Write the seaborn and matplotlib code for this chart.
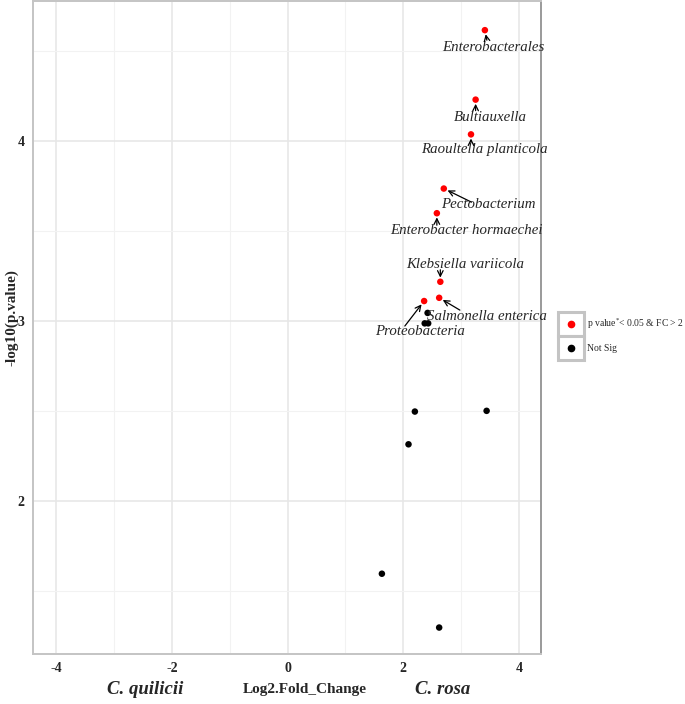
import matplotlib
matplotlib.use("Agg")
import matplotlib.pyplot as plt
from matplotlib.patches import Rectangle
from matplotlib.lines import Line2D
from matplotlib.ticker import FixedLocator
import seaborn as sns
import pandas as pd

# ---- data ----
log2fc = [3.41, 3.25, 3.17, 2.70, 2.58, 2.64, 2.62, 2.36,
          2.42, 2.37, 2.43, 2.20, 3.44, 2.09, 1.63, 2.62]
neglog10p = [4.614, 4.228, 4.035, 3.734, 3.597, 3.216, 3.127, 3.109,
             3.043, 2.985, 2.985, 2.495, 2.499, 2.313, 1.594, 1.295]
group = ["sig"] * 8 + ["ns"] * 8
labels = ["Enterobacterales", "Bultiauxella", "Raoultella planticola",
          "Pectobacterium", "Enterobacter hormaechei", "Klebsiella variicola",
          "Salmonella enterica", "Proteobacteria"] + [""] * 8
legend_labels = ["p value$^{*}$< 0.05 & FC > 2", "Not Sig"]
xticks = [-4, -2, 0, 2, 4]
xminor = [-3, -1, 1, 3]
yticks = [2, 3, 4]
yminor = [1.5, 2.5, 3.5, 4.5]

df = pd.DataFrame({"x": log2fc, "y": neglog10p, "g": group, "lab": labels})

# label (baseline) and arrow-start offsets (pixels, layout only)
text_off = [(8.5, -21), (15, -21), (13.5, -19), (44.5, -19.5), (30, -21),
            (25, 13.5), (48, -22), (-4, -34)]
arrow_off = [(2, -10), (0, -11), (0, -8), (27.7, -13.6), (0, -12),
             (0, 12), (20.7, -12.3), (-19.3, -25)]

W, H = 685, 704
sns.set_style("white")
plt.rcParams["font.family"] = ["Liberation Serif", "DejaVu Serif"]
plt.rcParams["mathtext.fontset"] = "custom"
plt.rcParams["mathtext.rm"] = "Liberation Serif"
plt.rcParams["mathtext.it"] = "Liberation Serif:italic"

fig = plt.figure(figsize=(W / 100, H / 100), dpi=100)
L, R, T, B = 33, 541, 1, 654
ax = fig.add_axes([L / W, 1 - B / H, (R - L) / W, (B - T) / H])

sns.scatterplot(data=df, x="x", y="y", hue="g",
                palette={"sig": "#ff0000", "ns": "#000000"},
                s=22, linewidth=0, legend=False, ax=ax, zorder=3)

ax.set_xlim(-4.4, 4.38)
ax.set_ylim(1.148, 4.776)
ax.set_xticks(xticks)
ax.set_xticklabels([str(v) for v in xticks], fontweight="bold")
ax.xaxis.set_minor_locator(FixedLocator(xminor))
ax.set_yticks(yticks)
ax.set_yticklabels([str(v) for v in yticks], fontweight="bold")
ax.yaxis.set_minor_locator(FixedLocator(yminor))
ax.grid(which="major", color="#e6e6e6", lw=1.1, zorder=0)
ax.grid(which="minor", color="#f2f2f2", lw=0.8, zorder=0)
ax.set_axisbelow(True)
for s in ["left", "top", "bottom"]:
    ax.spines[s].set_color("#c4c4c4")
    ax.spines[s].set_linewidth(1.4)
ax.spines["right"].set_color("#9a9a9a")
ax.spines["right"].set_linewidth(1.4)

ax.tick_params(axis="both", which="major", direction="out", length=2.5,
               width=2.2, color="black", pad=3.5, labelsize=10)
ax.tick_params(axis="both", which="minor", length=0)
ax.set_xlabel("")
ax.set_ylabel("")

# annotations: text + separate arrow
for i in range(8):
    ax.annotate(labels[i], xy=(log2fc[i], neglog10p[i]),
                xytext=text_off[i], textcoords="offset pixels",
                ha="center", va="baseline", fontsize=10.7, fontstyle="italic",
                zorder=4)
    ax.annotate("", xy=(log2fc[i], neglog10p[i]),
                xytext=arrow_off[i], textcoords="offset pixels",
                arrowprops=dict(arrowstyle="->,head_length=0.4,head_width=0.2",
                                lw=0.9, color="black", shrinkA=0, shrinkB=3),
                zorder=4)

# axis titles / side labels
fig.text(12 / W, 1 - 318 / H, "-log10(p.value)", rotation=90, ha="center",
         va="center", fontsize=11, fontweight="bold")
fig.text(305 / W, 1 - 690 / H, "Log2.Fold_Change", ha="center", va="center",
         fontsize=11, fontweight="bold")
fig.text(145 / W, 1 - 689 / H, "C. quilicii", ha="center", va="center",
         fontsize=13.5, fontweight="bold", fontstyle="italic")
fig.text(443 / W, 1 - 689 / H, "C. rosa", ha="center", va="center",
         fontsize=13.5, fontweight="bold", fontstyle="italic")

# legend (manual, ggplot-style keys)
def fx(x):
    return x / W

def fy(y):
    return 1 - y / H

for k, (col, lab) in enumerate(zip(["#ff0000", "#000000"], legend_labels)):
    y0 = 312 + k * 24
    fig.add_artist(Rectangle((fx(558), fy(y0 + 24)), 26 / W, 24 / H,
                             transform=fig.transFigure, facecolor="white",
                             edgecolor="#c4c4c4", lw=2.2))
    fig.add_artist(Line2D([fx(571)], [fy(y0 + 12)], marker="o", markersize=4.5,
                          color=col, transform=fig.transFigure, lw=0))
    fig.text(fx(587), fy(y0 + 12), lab, ha="left", va="center", fontsize=6.9)

fig.savefig("out.png", dpi=100)
